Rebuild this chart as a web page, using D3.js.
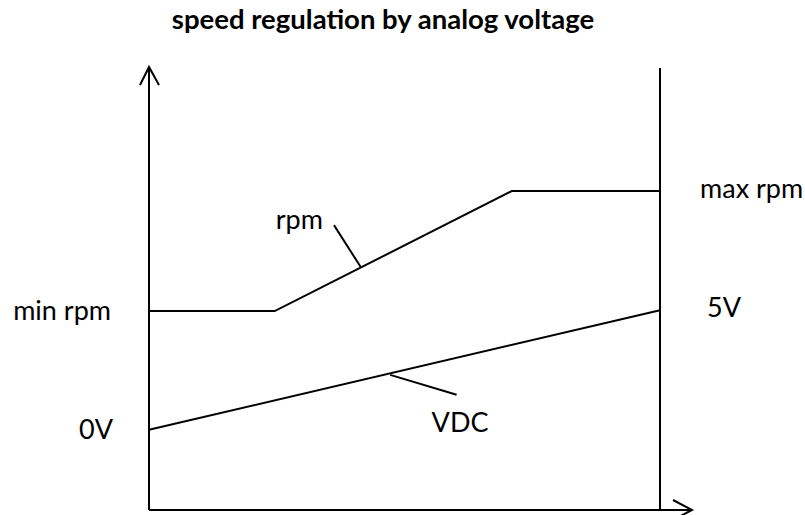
<!DOCTYPE html>
<html><head><meta charset="utf-8">
<script src="https://cdn.jsdelivr.net/npm/d3@7"></script>
<style>html,body{margin:0;padding:0;background:#fff;}</style>
</head><body>
<svg id="c" width="805" height="515"></svg>
<script>
// data (x in volts, y in relative level 0-100)
const title = "speed regulation by analog voltage";
const rpmX = [0, 1.23, 3.55, 5];
const rpmY = [44.9, 44.9, 72.0, 72.0];
const vdcX = [0, 5];
const vdcY = [18.1, 45.1];
const rpmLeader = [[2.07, 54.9], [1.81, 64.3]];
const vdcLeader = [[2.36, 30.5], [3.01, 26.0]];
const leftLabels = ["min rpm", "0V"];
const rightLabels = ["max rpm", "5V"];

const svg = d3.select("#c");
const x = d3.scaleLinear().domain([0, 5]).range([149, 660]);
const y = d3.scaleLinear().domain([0, 100]).range([510, 67]);
const font = "Lato, 'Open Sans', sans-serif";

svg.append("text").attr("x", 383).attr("y", 29).attr("text-anchor", "middle")
  .attr("font-family", font).attr("font-weight", "bold").attr("font-size", 27.5)
  .attr("fill", "#000").text(title);

const g = svg.append("g").attr("stroke", "#000").attr("fill", "none").attr("stroke-width", 2);
// y axis
g.append("line").attr("x1", x(0)).attr("x2", x(0)).attr("y1", y(100)).attr("y2", y(0));
g.append("path").attr("d", `M${x(0)-9},${y(100)+18}L${x(0)},${y(100)}L${x(0)+10},${y(100)+18}`);
// x axis
const xEnd = x(5) + 32;
g.append("line").attr("x1", x(0)).attr("x2", xEnd).attr("y1", y(0)).attr("y2", y(0));
g.append("path").attr("d", `M${xEnd-19},${y(0)-10}L${xEnd},${y(0)}L${xEnd-19},${y(0)+10}`);
// right vertical
g.append("line").attr("x1", x(5)).attr("x2", x(5)).attr("y1", y(99.8)).attr("y2", y(0));

const line = d3.line().x(d => x(d[0])).y(d => y(d[1]));
g.append("path").attr("d", line(rpmX.map((v, i) => [v, rpmY[i]])));
g.append("path").attr("d", line(vdcX.map((v, i) => [v, vdcY[i]])));
g.append("path").attr("d", line(rpmLeader));
g.append("path").attr("d", line(vdcLeader));

const t = svg.append("g").attr("font-family", font).attr("font-size", 27).attr("fill", "#000");
t.append("text").attr("x", x(rpmLeader[1][0]) - 11).attr("y", y(rpmLeader[1][1]) + 4)
  .attr("text-anchor", "end").text("rpm");
t.append("text").attr("x", x(vdcLeader[1][0]) - 25).attr("y", y(vdcLeader[1][1]) + 37)
  .text("VDC");
t.append("text").attr("x", 111).attr("y", y(rpmY[0]) + 9).attr("text-anchor", "end").text(leftLabels[0]);
t.append("text").attr("x", 113).attr("y", y(vdcY[0]) + 9).attr("text-anchor", "end").text(leftLabels[1]);
t.append("text").attr("x", 700).attr("y", y(rpmY[3]) + 7).text(rightLabels[0]);
t.append("text").attr("x", 707).attr("y", y(vdcY[1]) + 7).text(rightLabels[1]);
</script>
</body></html>
